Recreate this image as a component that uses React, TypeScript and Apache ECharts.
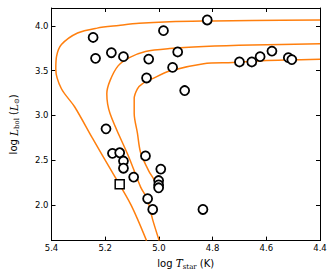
import React, { useEffect, useRef } from "react";
import * as echarts from "echarts";

// Observed stars: log T_star (K), log L_bol (L_sun)
const starLogT = [
  5.245, 5.236, 5.177, 5.132, 4.983, 5.038, 5.046, 4.930, 4.949, 4.904,
  4.820, 4.700, 4.654, 4.623, 4.579, 4.518, 4.505, 5.197, 5.173, 5.146,
  5.132, 5.132, 5.094, 5.050, 4.993, 5.001, 5.001, 5.001, 5.042, 5.023,
  4.836,
];
const starLogL = [
  3.871, 3.637, 3.700, 3.656, 3.947, 3.629, 3.418, 3.709, 3.536, 3.277,
  4.066, 3.597, 3.597, 3.656, 3.718, 3.645, 3.623, 2.849, 2.575, 2.582,
  2.489, 2.409, 2.310, 2.547, 2.399, 2.271, 2.222, 2.190, 2.068, 1.948,
  1.948,
];
// Special object (square marker)
const specialLogT = [5.146];
const specialLogL = [2.231];

// Evolutionary tracks
const trackOuterT = [5.046, 5.104, 5.175, 5.248, 5.314, 5.363, 5.384, 5.381, 5.363, 5.303, 5.230, 5.150, 5.074, 4.960, 4.800, 4.653, 4.400];
const trackOuterL = [1.600, 2.000, 2.370, 2.747, 3.096, 3.297, 3.516, 3.663, 3.791, 3.920, 3.975, 4.005, 4.030, 4.047, 4.055, 4.060, 4.066];
const trackMiddleT = [4.999, 5.023, 5.044, 5.068, 5.111, 5.182, 5.194, 5.182, 5.152, 5.110, 5.050, 4.960, 4.833, 4.653, 4.400];
const trackMiddleL = [1.600, 1.832, 2.069, 2.198, 2.527, 3.022, 3.242, 3.388, 3.553, 3.645, 3.714, 3.747, 3.769, 3.786, 3.799];
const trackInnerT = [5.007, 5.016, 5.038, 5.068, 5.080, 5.092, 5.092, 5.080, 5.062, 5.026, 4.960, 4.833, 4.725, 4.617, 4.400];
const trackInnerL = [2.190, 2.270, 2.380, 2.582, 2.802, 3.022, 3.187, 3.297, 3.352, 3.407, 3.495, 3.577, 3.590, 3.610, 3.626];

const yTicks = [2.0, 2.5, 3.0, 3.5, 4.0];

const zip = (a: number[], b: number[]) => a.map((v, i) => [v, b[i]]);

const ORANGE = "#ff7f0e";
const FONT = "DejaVu Sans";

export default function App() {
  const ref = useRef<HTMLDivElement>(null);
  useEffect(() => {
    const chart = echarts.init(ref.current!, null, { renderer: "svg" });
    const tickStyle = { inside: true, length: 4, lineStyle: { color: "#000", width: 1 } };
    const lineStyle = { show: true, onZero: false, lineStyle: { color: "#000", width: 1 } };
    const rich = {
      n: { fontSize: 10, fontFamily: FONT, color: "#000", lineHeight: 14 },
      i: { fontSize: 10.5, fontFamily: "DejaVu Serif", fontStyle: "italic", color: "#000", lineHeight: 14 },
      s: { fontSize: 7, fontFamily: "DejaVu Serif", color: "#000", verticalAlign: "bottom", lineHeight: 8 },
    };
    const trackSeries = (t: number[], l: number[]) => ({
      type: "line",
      data: zip(t, l),
      showSymbol: false,
      smooth: 0.3,
      lineStyle: { color: ORANGE, width: 1.5 },
      z: 2,
      silent: true,
    });
    chart.setOption({
      animation: false,
      grid: { left: 43, right: 10, top: 8, bottom: 31 },
      xAxis: [
        {
          type: "value",
          min: 4.4,
          max: 5.4,
          interval: 0.2,
          inverse: true,
          position: "bottom",
          axisLine: lineStyle,
          axisTick: tickStyle,
          splitLine: { show: false },
          axisLabel: {
            formatter: (v: number) => v.toFixed(1),
            fontSize: 8.5,
            color: "#000",
            margin: 3,
            fontFamily: FONT,
          },
          name: "{n|log }{i|T}{s|star}{n| (K)}",
          nameLocation: "middle",
          nameGap: 11,
          nameTextStyle: { color: "#000", verticalAlign: "top", rich },
        },
        {
          type: "value",
          min: 4.4,
          max: 5.4,
          interval: 0.2,
          inverse: true,
          position: "top",
          axisLine: lineStyle,
          axisTick: tickStyle,
          axisLabel: { show: false },
          splitLine: { show: false },
        },
      ],
      yAxis: [
        {
          type: "value",
          min: 1.6,
          max: 4.2,
          position: "left",
          axisLine: lineStyle,
          axisTick: { ...tickStyle, customValues: yTicks },
          splitLine: { show: false },
          axisLabel: {
            customValues: yTicks,
            formatter: (v: number) => v.toFixed(1),
            fontSize: 8.5,
            color: "#000",
            margin: 3,
            fontFamily: FONT,
          },
          name: "{n|log }{i|L}{s|bol}{n| (}{i|L}{s|⊙}{n|)}",
          nameLocation: "middle",
          nameGap: 31,
          nameRotate: 90,
          nameTextStyle: { color: "#000", rich },
        },
        {
          type: "value",
          min: 1.6,
          max: 4.2,
          position: "right",
          axisLine: lineStyle,
          axisTick: { ...tickStyle, customValues: yTicks },
          axisLabel: { show: false },
          splitLine: { show: false },
        },
      ],
      series: [
        trackSeries(trackOuterT, trackOuterL),
        trackSeries(trackMiddleT, trackMiddleL),
        trackSeries(trackInnerT, trackInnerL),
        {
          type: "scatter",
          data: zip(starLogT, starLogL),
          symbol: "circle",
          symbolSize: 9,
          itemStyle: { color: "#fff", borderColor: "#000", borderWidth: 1.8, opacity: 1 },
          z: 5,
          silent: true,
        },
        {
          type: "scatter",
          data: zip(specialLogT, specialLogL),
          symbol: "rect",
          symbolSize: 9,
          itemStyle: { color: "#fff", borderColor: "#000", borderWidth: 1.5, opacity: 1 },
          z: 5,
          silent: true,
        },
      ],
    });
    return () => chart.dispose();
  }, []);
  return (
    <div
      ref={ref}
      style={{ position: "fixed", left: 0, top: 0, width: 330, height: 275, background: "#fff" }}
    />
  );
}
